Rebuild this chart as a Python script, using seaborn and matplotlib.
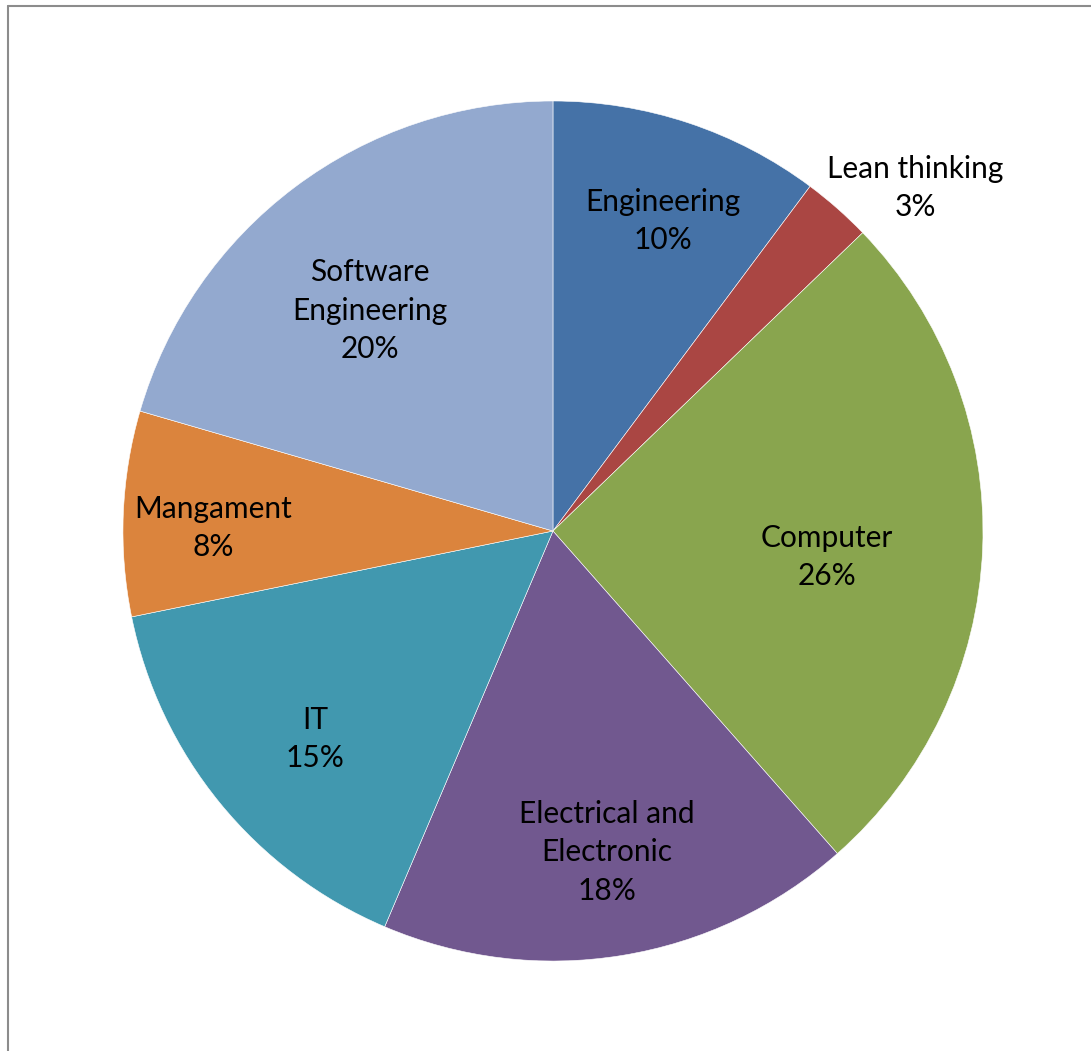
import matplotlib
matplotlib.use("Agg")
import matplotlib.pyplot as plt
from matplotlib.lines import Line2D
import seaborn as sns

# data (clockwise from 12 o'clock)
categories = ["Engineering", "Lean thinking", "Computer", "Electrical and\nElectronic",
              "IT", "Mangament", "Software\nEngineering"]
values = [10.2, 2.6, 25.7, 17.9, 15.4, 7.7, 20.5]
pct_labels = ["10%", "3%", "26%", "18%", "15%", "8%", "20%"]

# label centres in pie units (radius = 1)
label_pos = [(0.256, 0.721), (0.842, 0.798), (0.637, -0.060), (0.126, -0.747),
             (-0.553, -0.484), (-0.791, 0.007), (-0.426, 0.512)]

colors = ["#4572A7", "#AA4643", "#89A54E", "#71588F", "#4198AF", "#DB843D", "#93A9CF"]

sns.set_theme(style="white")
plt.rcParams["font.family"] = ["Lato", "DejaVu Sans"]

fig = plt.figure(figsize=(10.91, 10.51), dpi=100)
ax = fig.add_axes([0.1127, 0.0856, 0.7883, 0.8183])

palette = sns.color_palette(colors)
ax.pie(values, colors=palette, startangle=90, counterclock=False, radius=1,
       wedgeprops=dict(edgecolor="white", linewidth=0.4))

for cat, pct, (x, y) in zip(categories, pct_labels, label_pos):
    ax.text(x, y, f"{cat}\n{pct}", ha="center", va="center", fontsize=21.5,
            color="black", linespacing=1.45)

ax.set_xlim(-1, 1)
ax.set_ylim(-1, 1)
ax.set_aspect("equal")
ax.axis("off")

# chart frame (only top and left edges visible in the crop)
fig.add_artist(Line2D([8 / 1091, 8 / 1091], [0, 1 - 6 / 1051], transform=fig.transFigure,
                      color="#8c8c8c", linewidth=1.5))
fig.add_artist(Line2D([8 / 1091, 1], [1 - 6 / 1051, 1 - 6 / 1051], transform=fig.transFigure,
                      color="#8c8c8c", linewidth=1.5))

fig.savefig("out.png", dpi=100, facecolor="white")
